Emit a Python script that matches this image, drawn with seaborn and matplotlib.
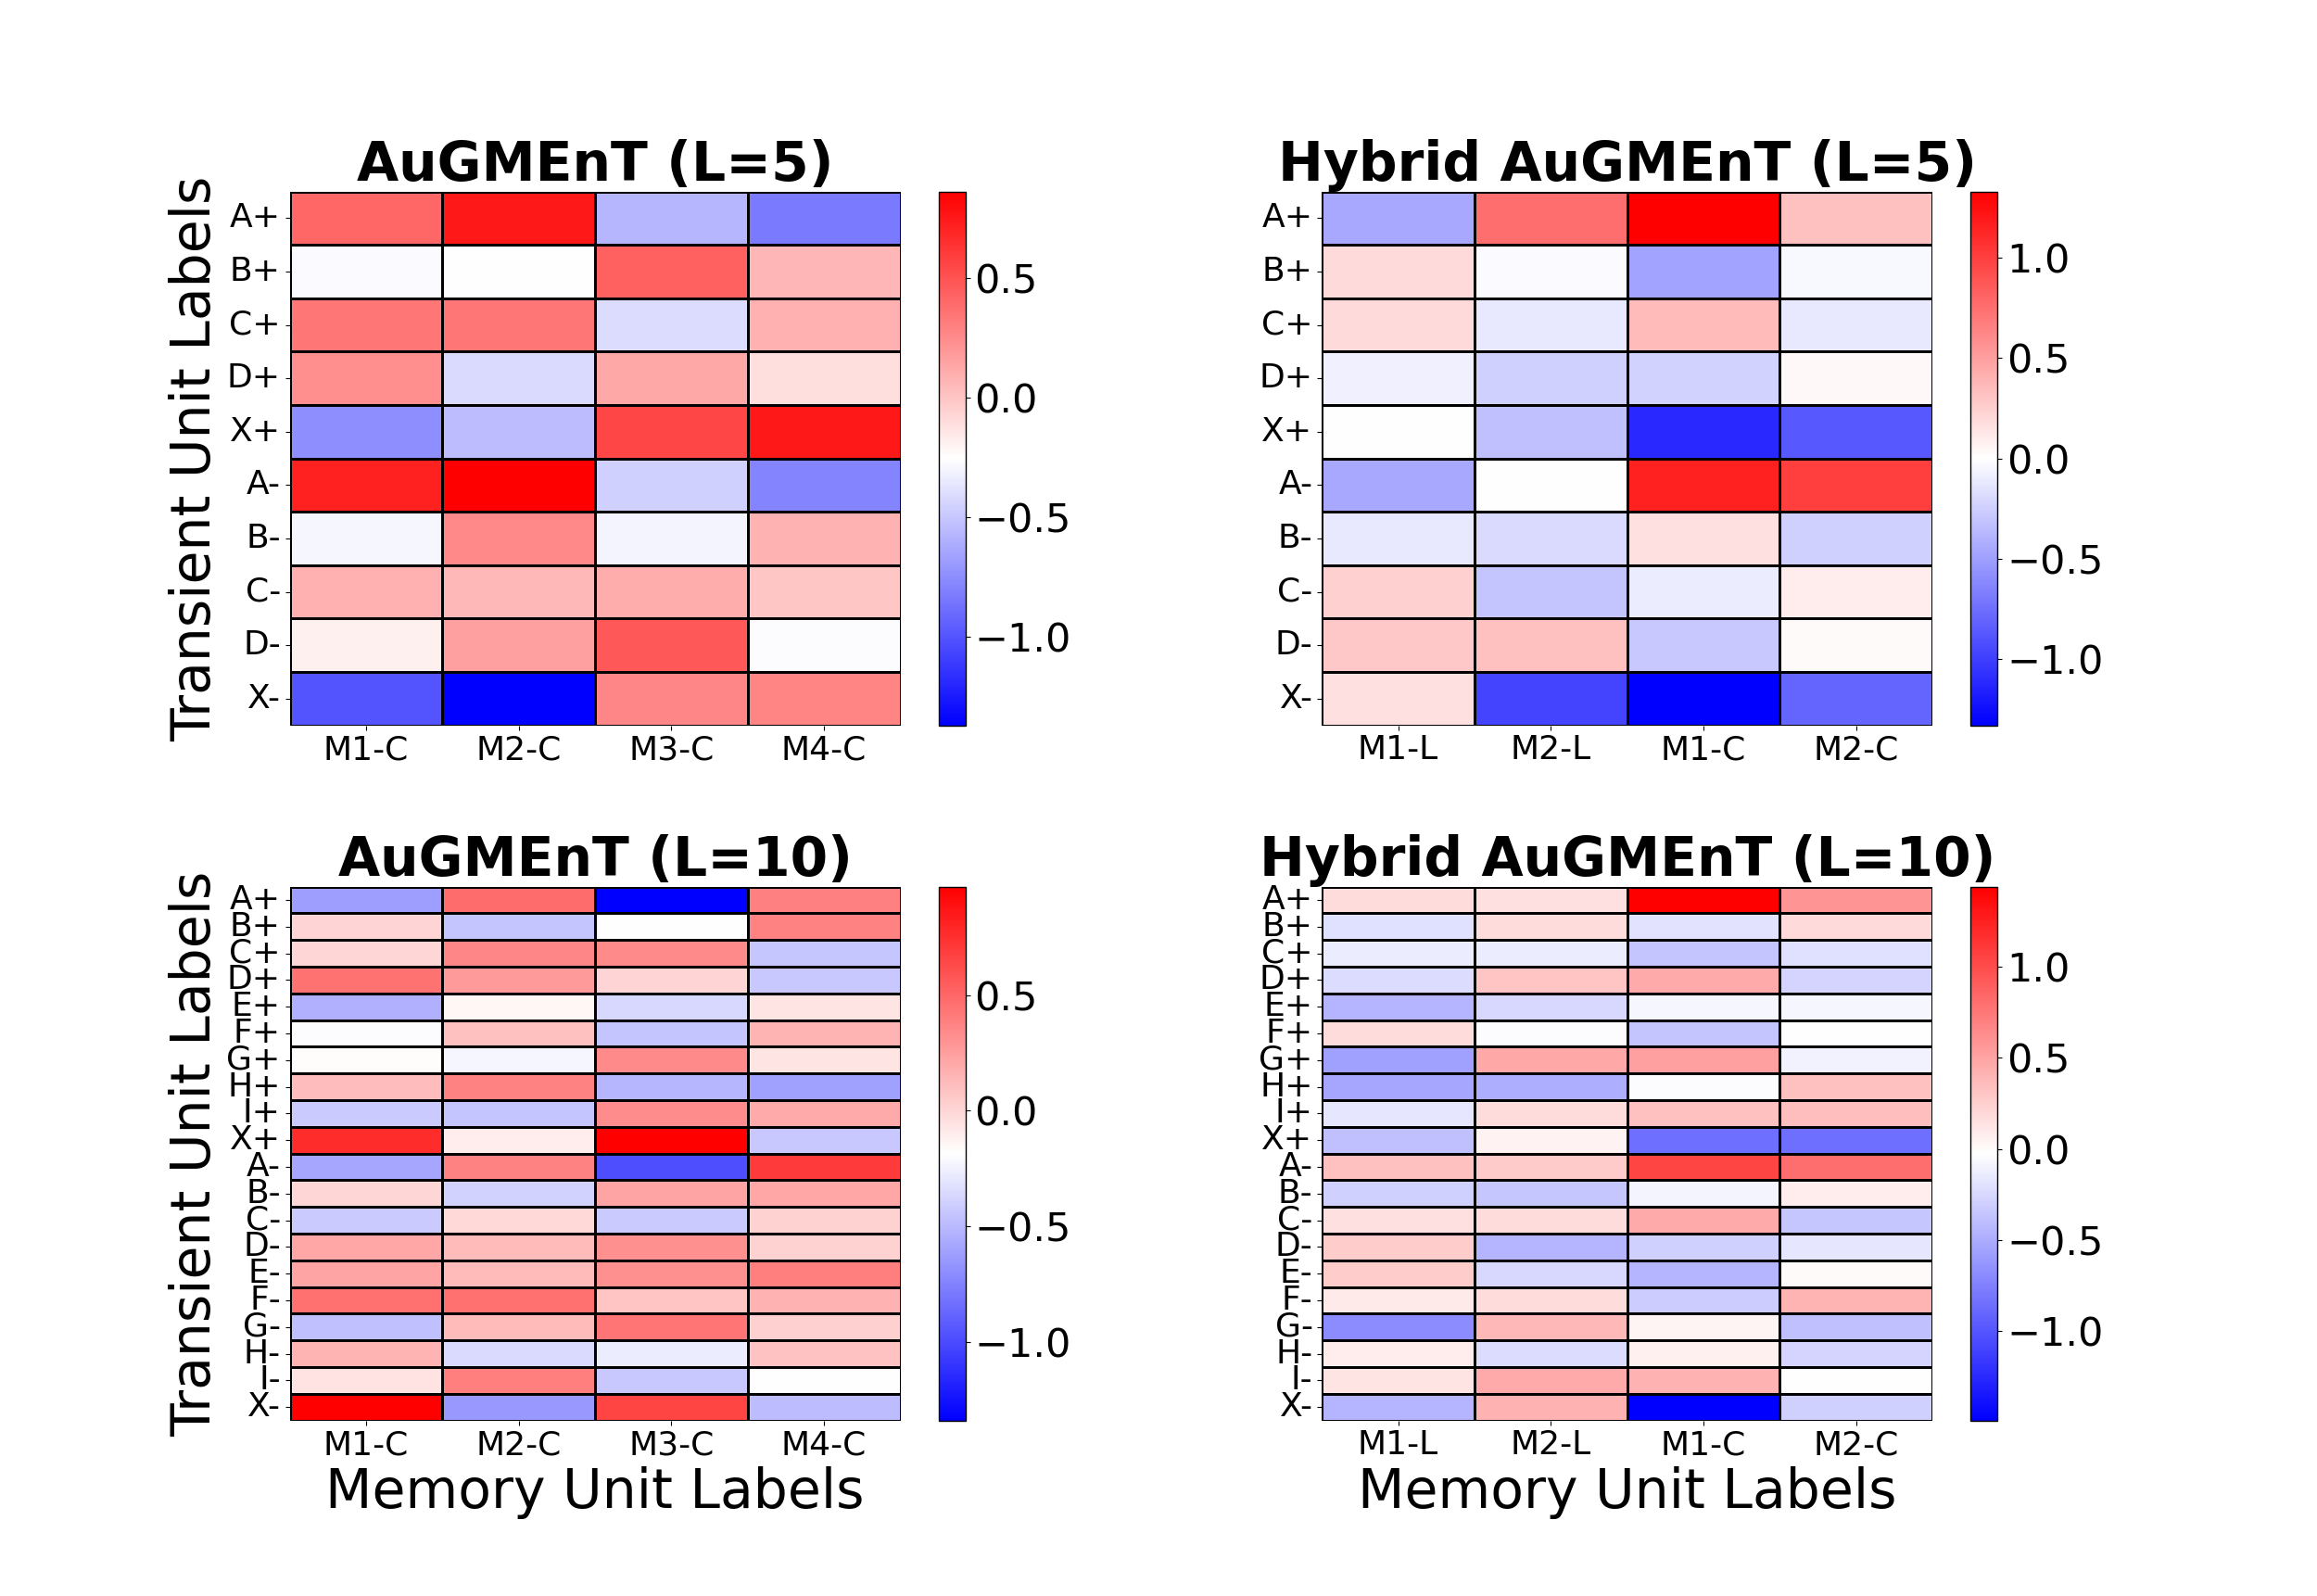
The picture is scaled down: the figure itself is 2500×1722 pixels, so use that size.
import numpy as np
import pandas as pd
import seaborn as sns
import matplotlib.pyplot as plt

rows5 = ['A+', 'B+', 'C+', 'D+', 'X+', 'A-', 'B-', 'C-', 'D-', 'X-']
rows10 = ['A+', 'B+', 'C+', 'D+', 'E+', 'F+', 'G+', 'H+', 'I+', 'X+',
          'A-', 'B-', 'C-', 'D-', 'E-', 'F-', 'G-', 'H-', 'I-', 'X-']
cols_aug = ['M1-C', 'M2-C', 'M3-C', 'M4-C']
cols_hyb = ['M1-L', 'M2-L', 'M1-C', 'M2-C']

# AuGMEnT (L=5) weights, one row per transient unit
aug5 = [
    [0.41, 0.75, -0.57, -0.83],
    [-0.28, -0.25, 0.44, 0.06],
    [0.34, 0.34, -0.41, 0.09],
    [0.24, -0.42, 0.12, -0.11],
    [-0.75, -0.55, 0.55, 0.75],
    [0.72, 0.86, -0.46, -0.79],
    [-0.29, 0.26, -0.30, 0.08],
    [0.09, 0.05, 0.11, -0.01],
    [-0.19, 0.16, 0.47, -0.27],
    [-1.00, -1.37, 0.27, 0.28],
]

# Hybrid AuGMEnT (L=5)
hyb5 = [
    [-0.45, 0.75, 1.33, 0.33],
    [0.19, -0.03, -0.48, -0.04],
    [0.19, -0.12, 0.36, -0.12],
    [-0.08, -0.24, -0.23, 0.04],
    [-0.01, -0.33, -1.12, -0.87],
    [-0.45, 0.00, 1.16, 1.00],
    [-0.12, -0.19, 0.16, -0.24],
    [0.24, -0.31, -0.10, 0.10],
    [0.29, 0.33, -0.29, 0.03],
    [0.16, -0.97, -1.33, -0.81],
]

# AuGMEnT (L=10)
aug10 = [
    [-0.62, 0.48, -1.34, 0.39],
    [0.01, -0.45, -0.185, 0.38],
    [0.00, 0.36, 0.34, -0.44],
    [0.45, 0.27, 0.01, -0.43],
    [-0.54, -0.14, -0.36, -0.06],
    [-0.20, 0.10, -0.45, 0.15],
    [-0.17, -0.23, 0.34, -0.06],
    [0.12, 0.38, -0.51, -0.61],
    [-0.42, -0.45, 0.33, 0.20],
    [0.77, -0.10, 0.97, -0.43],
    [-0.59, 0.38, -0.98, 0.70],
    [0.00, -0.39, 0.23, 0.22],
    [-0.42, -0.01, -0.42, 0.02],
    [0.22, 0.13, 0.32, 0.02],
    [0.23, 0.13, 0.32, 0.40],
    [0.46, 0.46, 0.08, 0.16],
    [-0.47, 0.13, 0.44, 0.03],
    [0.15, -0.35, -0.27, 0.09],
    [-0.05, 0.40, -0.43, -0.185],
    [0.97, -0.65, 0.66, -0.49],
]

# Hybrid AuGMEnT (L=10)
hyb10 = [
    [0.18, 0.15, 1.44, 0.59],
    [-0.20, 0.18, -0.19, 0.19],
    [-0.13, -0.13, -0.36, -0.20],
    [-0.23, 0.31, 0.46, -0.27],
    [-0.45, -0.25, -0.08, -0.08],
    [0.18, -0.04, -0.36, -0.02],
    [-0.57, 0.47, 0.52, -0.10],
    [-0.54, -0.49, -0.04, 0.34],
    [-0.17, 0.17, 0.33, 0.35],
    [-0.39, 0.05, -0.85, -0.85],
    [0.33, 0.28, 1.04, 0.80],
    [-0.29, -0.35, -0.09, 0.08],
    [0.15, 0.18, 0.46, -0.35],
    [0.27, -0.45, -0.29, -0.17],
    [0.27, -0.25, -0.45, 0.00],
    [0.09, 0.18, -0.32, 0.40],
    [-0.68, 0.38, 0.04, -0.39],
    [0.08, -0.23, 0.06, -0.27],
    [0.13, 0.46, 0.42, -0.02],
    [-0.45, 0.42, -1.49, -0.29],
]

panels = [
    (aug5, rows5, cols_aug, 'AuGMEnT (L=5)'),
    (hyb5, rows5, cols_hyb, 'Hybrid AuGMEnT (L=5)'),
    (aug10, rows10, cols_aug, 'AuGMEnT (L=10)'),
    (hyb10, rows10, cols_hyb, 'Hybrid AuGMEnT (L=10)'),
]

fig, axes = plt.subplots(2, 2, figsize=(25, 17.22), dpi=100)
plt.subplots_adjust(wspace=0.352, hspace=0.302)

for i, (vals, rows, cols, title) in enumerate(panels):
    ax = axes.flat[i]
    df = pd.DataFrame(vals, index=rows, columns=cols)
    sns.heatmap(df, cmap='bwr', linewidths=0.9, linecolor='black', ax=ax)
    ax.set_title(title, fontsize=42, fontweight='bold')
    ax.tick_params(labelsize=26)
    ax.set_yticklabels(ax.get_yticklabels(), rotation=0)
    ax.set_xticklabels(ax.get_xticklabels(), rotation=0)
    cbar = ax.collections[0].colorbar
    cbar.ax.tick_params(labelsize=31)
    cbar.outline.set_edgecolor('black')
    cbar.outline.set_linewidth(1)
    if i % 2 == 0:
        ax.set_ylabel('Transient Unit Labels', fontsize=42)
    if i >= 2:
        ax.set_xlabel('Memory Unit Labels', fontsize=42)

plt.savefig('out.png', dpi=100)
